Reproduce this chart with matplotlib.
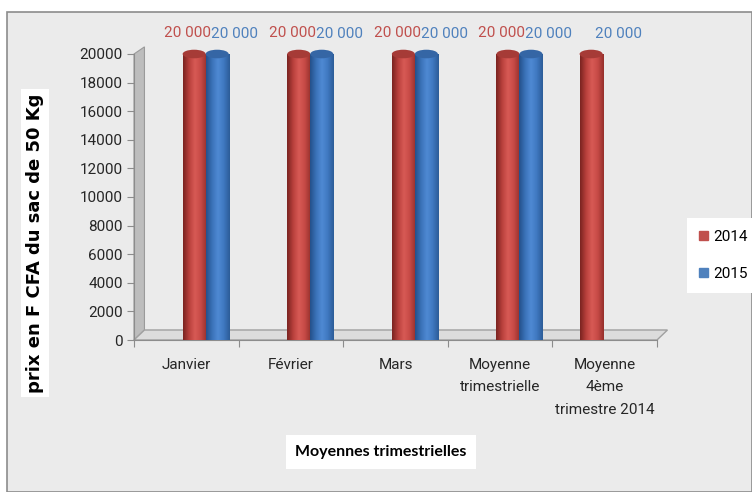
import numpy as np
import matplotlib
matplotlib.use("Agg")
import matplotlib.pyplot as plt
from matplotlib.patches import Rectangle, Polygon, Ellipse
from matplotlib import font_manager

categories = ["Janvier", "Février", "Mars", "Moyenne\ntrimestrielle", "Moyenne\n4ème\ntrimestre 2014"]
values_2014 = [20000, 20000, 20000, 20000, 20000]
values_2015 = [20000, 20000, 20000, 20000, None]
labels_2014 = ["20 000", "20 000", "20 000", "20 000", None]
labels_2015 = ["20 000", "20 000", "20 000", "20 000", "20 000"]
yticks = list(range(0, 20001, 2000))

W, H = 752, 492
fig = plt.figure(figsize=(W / 100, H / 100), dpi=100)
fig.patch.set_facecolor("white")

available = {f.name for f in font_manager.fontManager.ttflist}
if "Liberation Sans Narrow" in available:
    NARROW, NS = ["Liberation Sans Narrow", "DejaVu Sans"], 12
elif "DejaVu Sans Condensed" in available:
    NARROW, NS = ["DejaVu Sans Condensed", "DejaVu Sans"], 10.5
else:
    NARROW, NS = ["Roboto", "DejaVu Sans"], 10.5

# chart area background
bg = Rectangle((7 / W, 0), 1 - 7 / W, 1 - 12 / H, transform=fig.transFigure,
               facecolor="#ebebeb", edgecolor="#8c8c8c", lw=1.2, zorder=-5)
fig.patches.append(bg)

left, right = 134 / W, 657 / W
bottom, top = 1 - 340 / H, 1 - 47 / H
ax = fig.add_axes([left, bottom, right - left, top - bottom])
ax.set_facecolor("none")
ymax = 20000 * (340 - 47) / (340 - 54)
ax.set_ylim(0, ymax)
ax.set_xlim(-0.5, len(categories) - 0.5)

# 3D wall and floor
dx, dy = 0.10, 700
wall = Polygon([(-0.5, 0), (-0.5, 20000), (-0.5 + dx, 20000 + 500), (-0.5 + dx, dy)],
               closed=True, facecolor="#bdbdbd", edgecolor="#9a9a9a", lw=0.8, zorder=1,
               clip_on=False)
ax.add_patch(wall)
floor = Polygon([(-0.5, 0), (len(categories) - 0.5, 0), (len(categories) - 0.5 + dx, dy),
                 (-0.5 + dx, dy)], closed=True, facecolor="#dcdcdc", edgecolor="#a0a0a0",
                lw=1.0, zorder=1, clip_on=False)
ax.add_patch(floor)

bw = 0.22
x = np.arange(len(categories))
off_r = np.array([0.075 if v is not None else -0.13 for v in values_2015])
off_b = off_r + bw


def cyl(bars, cmap_colors, capcolor):
    grad = np.linspace(0, 1, 64).reshape(1, -1)
    cm = matplotlib.colors.LinearSegmentedColormap.from_list("c", cmap_colors)
    for b in bars:
        bx, by = b.get_x(), b.get_y()
        w, h = b.get_width(), b.get_height()
        im = ax.imshow(grad, cmap=cm, aspect="auto", extent=(bx, bx + w, by, by + h),
                       zorder=3, interpolation="bicubic")
        im.set_clip_path(b)
        ax.add_patch(Ellipse((bx + w / 2, by + h), w, 600, facecolor=capcolor,
                             edgecolor="none", zorder=4))
    ax.set_xlim(-0.5, len(categories) - 0.5)
    ax.set_ylim(0, ymax)


red_vals = [v if v is not None else 0 for v in values_2014]
mask_b = [v is not None for v in values_2015]
bars_r = ax.bar(x + off_r, red_vals, bw, color="#c0504d", edgecolor="none", zorder=2)
bars_b = ax.bar((x + off_b)[mask_b], [v for v in values_2015 if v is not None], bw,
                color="#4f81bd", edgecolor="none", zorder=2)
cyl(bars_r, ["#7a2320", "#b8403c", "#d85a55", "#c64a46", "#96302c"], "#a63b37")
cyl(bars_b, ["#24508a", "#3a72b8", "#4f8ad4", "#3f78c0", "#2c5c98"], "#3566a5")

for i in range(len(categories)):
    if labels_2014[i]:
        ax.text(x[i] + off_r[i] - 0.06, values_2014[i] + 1000, labels_2014[i],
                ha="center", va="bottom", color="#c0504d", fontsize=NS + 0.5, family=NARROW)
    if labels_2015[i]:
        if values_2015[i] is not None:
            xb, yb = x[i] + off_b[i] + 0.17, values_2015[i] + 900
        else:
            xb, yb = x[i] + 0.135, values_2014[i] + 900
        ax.text(xb, yb, labels_2015[i], ha="center", va="bottom", color="#4f81bd",
                fontsize=NS + 0.5, family=NARROW)

ax.set_yticks(yticks)
ax.set_yticklabels([str(t) for t in yticks], family=NARROW, fontsize=NS + 0.5, color="#262626")
ax.set_xticks(np.arange(-0.5, len(categories)), minor=False)
ax.set_xticklabels([])
ax.set_xticks(x, minor=True)
ax.set_xticklabels(categories, minor=True, family=NARROW, fontsize=NS + 0.5, color="#262626",
                   linespacing=1.75, va="top")
ax.tick_params(axis="x", which="minor", length=0, pad=13)
ax.tick_params(axis="x", which="major", length=5, color="#8c8c8c")
ax.tick_params(axis="y", length=5, color="#8c8c8c", pad=3)
for s in ["top", "right"]:
    ax.spines[s].set_visible(False)
ax.spines["left"].set_color("#8c8c8c")
ax.spines["bottom"].set_color("#8c8c8c")
ax.spines["left"].set_bounds(0, 20000)

# axis titles in white boxes
fig.text(35 / W, 1 - 243 / H, "prix en F CFA du sac de 50 Kg", rotation=90, ha="center",
         va="center", fontsize=13, fontweight="bold", family=["DejaVu Sans"],
         bbox=dict(boxstyle="square,pad=0.25", facecolor="white", edgecolor="none"))
fig.text(381 / W, 1 - 452 / H, "Moyennes trimestrielles", ha="center", va="center",
         fontsize=11.5, fontweight="bold", family=["Lato", "DejaVu Sans"],
         bbox=dict(boxstyle="square,pad=0.6", facecolor="white", edgecolor="none"))

handles = [Rectangle((0, 0), 1, 1, color="#c0504d"), Rectangle((0, 0), 1, 1, color="#4f81bd")]
leg = fig.legend(handles, ["2014", "2015"], loc="upper left",
                 bbox_to_anchor=(687 / W, 1 - 218 / H), frameon=True, fancybox=False,
                 prop={"family": NARROW, "size": NS + 0.5}, handlelength=0.55, handleheight=0.55,
                 handletextpad=0.4, labelspacing=1.5, borderpad=0.8, borderaxespad=0)
leg.get_frame().set_facecolor("white")
leg.get_frame().set_edgecolor("none")
leg.get_frame().set_alpha(1)

fig.savefig("out.png", dpi=100)
